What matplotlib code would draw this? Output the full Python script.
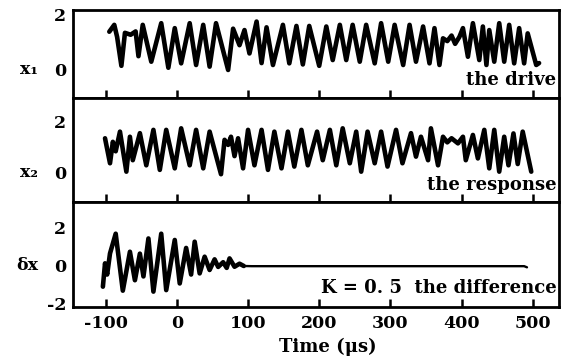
import matplotlib
matplotlib.use("Agg")
import matplotlib.pyplot as plt
import matplotlib.transforms as mtransforms

plt.rcParams["axes.unicode_minus"] = False
SERIF = ["DejaVu Serif", "Liberation Serif"]

# extrema (time in us, value)
drive_t = [-95, -88, -84, -78, -73, -65, -58, -54, -48, -36, -22, -12, -3, 6, 18, 27,
           37, 46, 55, 72, 79, 88, 95, 102, 112, 119, 126, 135, 149, 158, 168, 177,
           186, 200, 210, 219, 229, 238, 247, 257, 266, 278, 287, 297, 306, 318, 327,
           336, 346, 355, 362, 369, 374, 380, 386, 391, 397, 402, 409, 416, 425, 430,
           435, 439, 446, 453, 460, 467, 474, 481, 488, 493, 505, 509]
drive_v = [1.39, 1.64, 1.20, 0.15, 1.35, 1.28, 1.40, 0.50, 1.64, 0.30, 1.70, 0.08, 1.52,
           0.24, 1.70, 0.18, 1.64, 0.12, 1.70, 0.00, 1.50, 0.90, 1.45, 0.60, 1.76, 0.25,
           1.55, 0.18, 1.64, 0.24, 1.60, 0.20, 1.60, 0.15, 1.58, 0.36, 1.64, 0.36, 1.64,
           0.30, 1.64, 0.24, 1.70, 0.30, 1.64, 0.18, 1.64, 0.30, 1.58, 0.24, 1.52, 0.18,
           1.15, 1.05, 1.25, 0.95, 1.20, 1.52, 0.48, 1.70, 0.36, 1.58, 0.18, 1.45, 0.30,
           1.70, 0.30, 1.64, 0.24, 1.52, 0.24, 1.33, 0.18, 0.25]

resp_t = [-101, -94, -90, -86, -80, -71, -66, -62, -52, -43, -33, -24, -15, -3, 6, 18,
          27, 37, 46, 62, 67, 72, 76, 81, 86, 93, 100, 109, 119, 128, 137, 147, 156,
          165, 175, 184, 197, 205, 215, 224, 233, 243, 252, 259, 268, 278, 287, 296,
          308, 317, 329, 336, 343, 353, 357, 367, 374, 380, 386, 395, 402, 406, 416,
          423, 432, 439, 446, 453, 460, 466, 473, 479, 486, 498]
resp_v = [1.36, 0.38, 1.22, 0.85, 1.62, 0.05, 1.42, 0.50, 1.56, 0.30, 1.69, 0.12, 1.69,
          0.18, 1.75, 0.30, 1.69, 0.18, 1.62, -0.05, 1.30, 1.10, 1.42, 0.66, 1.36, 0.18,
          1.69, 0.30, 1.69, 0.12, 1.62, 0.18, 1.62, 0.25, 1.69, 0.30, 1.62, 0.50, 1.69,
          0.30, 1.75, 0.38, 1.62, 0.05, 1.62, 0.38, 1.62, 0.25, 1.69, 0.38, 1.56, 0.64,
          1.42, 0.50, 1.75, 0.30, 1.42, 1.20, 1.36, 1.16, 1.42, 0.50, 1.49, 0.57, 1.69,
          0.18, 1.69, 0.05, 1.42, 0.30, 1.55, 0.35, 1.62, 0.05]

diff_t = [-104, -101, -98, -94, -86, -76, -66, -59, -52, -47, -40, -33, -22, -15, -3, 4,
          13, 20, 25, 32, 39, 46, 53, 58, 65, 70, 74, 81, 88, 94, 105, 200, 300, 400,
          488, 492]
diff_v = [-1.14, 0.09, -0.50, 0.61, 1.65, -1.35, 0.70, -0.80, 0.60, -0.60, 1.40, -1.40,
          1.65, -1.32, 1.32, -0.97, 0.90, -0.50, 1.23, -0.44, 0.44, -0.26, 0.30, -0.10,
          0.15, -0.15, 0.35, -0.09, 0.07, -0.05, -0.06, -0.06, -0.06, -0.06, -0.06, -0.12]
sync_index = 29  # from here on the difference has died out (thin flat trace)

x_ticks = [-100, 0, 100, 200, 300, 400, 500]

fig = plt.figure(figsize=(5.63, 3.56), dpi=100, facecolor="white")

left, width = 73 / 563, 486 / 563
panels = [
    # (bottom, height, t, v, ylim, yticks, ylabel, note, note_y)
    (1 - 98 / 356, 88 / 356, drive_t, drive_v, (-1.02, 2.18), [0, 2], "x\u2081", "the drive", 0.15),
    (1 - 202 / 356, 104 / 356, resp_t, resp_v, (-1.14, 2.94), [0, 2], "x\u2082", "the response", 0.115),
    (1 - 307 / 356, 105 / 356, diff_t, diff_v, (-2.21, 3.32), [-2, 0, 2], "\u03b4x",
     "K = 0. 5  the difference", 0.133),
]

for i, (bottom, height, t, v, ylim, yticks, ylabel, note, note_y) in enumerate(panels):
    ax = fig.add_axes([left, bottom, width, height])
    if i == 2:
        ax.plot(t[:sync_index + 1], v[:sync_index + 1], color="black", lw=3.3,
                solid_joinstyle="round", solid_capstyle="round")
        ax.plot(t[sync_index:], v[sync_index:], color="black", lw=1.7,
                solid_joinstyle="round", solid_capstyle="round")
    else:
        ax.plot(t, v, color="black", lw=3.3, solid_joinstyle="round", solid_capstyle="round")
    ax.set_xlim(-146, 537)
    ax.set_ylim(*ylim)
    ax.set_xticks(x_ticks)
    ax.set_yticks(yticks)
    for s in ax.spines.values():
        s.set_linewidth(2.0)
    ax.tick_params(axis="x", direction="in", length=6, width=1.8, pad=6,
                   labelbottom=(i == 2))
    ax.tick_params(axis="y", length=0, pad=5)
    for lab in ax.get_xticklabels() + ax.get_yticklabels():
        lab.set_family(SERIF)
        lab.set_fontweight("bold")
        lab.set_fontsize(12.5)

    trans = mtransforms.blended_transform_factory(ax.transAxes, ax.transData)
    ax.text(-0.072, 0, ylabel, transform=trans, ha="right", va="center",
            family=SERIF, fontsize=12.5, fontweight="bold")
    ax.text(0.995, note_y, note, transform=ax.transAxes, ha="right", va="baseline",
            family=SERIF, fontsize=13, fontweight="bold")

    if i == 2:
        ax.set_xlabel("Time (\u03bcs)", family=SERIF, fontsize=13, fontweight="bold",
                      labelpad=0)
        ax.xaxis.set_label_coords(0.525, -0.29)

fig.savefig("out.png", dpi=100, facecolor="white")
